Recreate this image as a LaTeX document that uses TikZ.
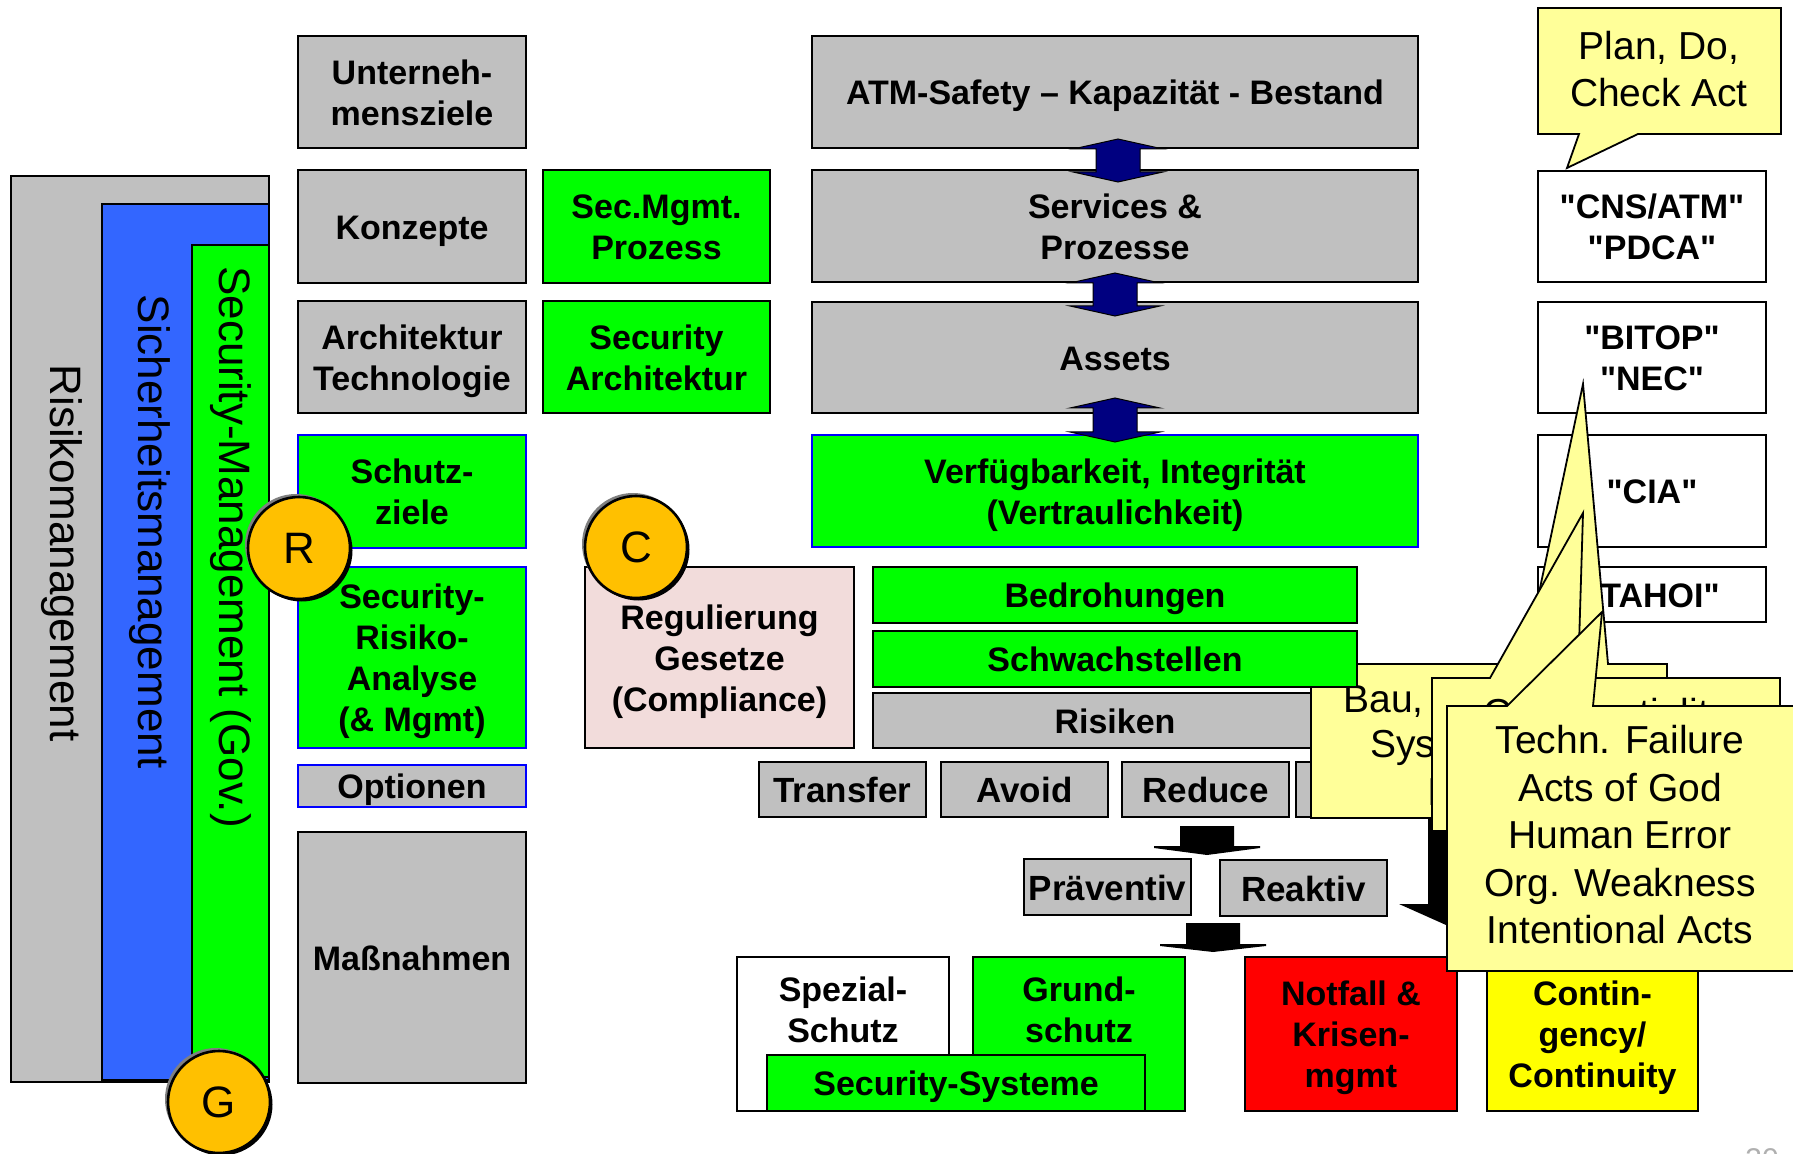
\documentclass[tikz,border=0pt]{standalone}
\usepackage{fontspec}
\setmainfont{Liberation Sans}
\newfontfamily\plainfont{Liberation Sans}
\usetikzlibrary{calc}
\definecolor{gy}{HTML}{C0C0C0}
\definecolor{gn}{HTML}{00FF00}
\definecolor{bl}{HTML}{0000FF}
\definecolor{pb}{HTML}{3366FF}
\definecolor{nv}{HTML}{000080}
\definecolor{pk}{HTML}{F2DCDB}
\definecolor{cy}{HTML}{FFFF99}
\definecolor{og}{HTML}{FFC000}
\definecolor{rd}{HTML}{FF0000}
\definecolor{yl}{HTML}{FFFF00}
\definecolor{pn}{HTML}{B0B0B0}
\newcommand\mystrut{\rule[-0.21em]{0pt}{1.18em}}
\newcommand\bx[7]{\node[#6, minimum width={(#4-#2)*0.5pt}, minimum height={(#5-#3)*0.5pt}] (#1) at ({(#2+#4)/2},{(#3+#5)/2}) {\mystrut#7\mystrut};}
\newcommand\dbl[3]{\draw[narrow] (#1,#2) -- ({#1+45},{#2+10}) -- ({#1+22},{#2+10}) -- ({#1+22},{#3-10}) -- ({#1+45},{#3-10}) -- (#1,#3) -- ({#1-45},{#3-10}) -- ({#1-22},{#3-10}) -- ({#1-22},{#2+10}) -- ({#1-45},{#2+10}) -- cycle;}
\newcommand\bcirc[4]{%
  \fill[gray] ({#2-3},{#3-3}) circle (51);
  \fill[black] ({#2+2.5},{#3+2.5}) circle (51);
  \node[circ] (#1) at (#2,#3) {#4};}
\tikzset{
  bb/.style={draw=black, line width=1.1pt, inner sep=0pt, align=center, font=\bfseries\fontsize{17}{20.5}\selectfont},
  gb/.style={bb, fill=gy},
  nb/.style={bb, fill=gn},
  nbb/.style={bb, fill=gn, draw=bl},
  gbb/.style={bb, fill=gy, draw=bl},
  wb/.style={bb, fill=white, font=\plainfont\bfseries\fontsize{17}{20.5}\selectfont},
  btxt/.style={inner sep=0pt, align=center, font=\bfseries\fontsize{17}{20.5}\selectfont},
  circ/.style={circle, draw=black, line width=1.3pt, fill=og, minimum size=51pt, inner sep=0pt, font=\fontsize{22}{26}\selectfont},
  call/.style={draw=black, line width=0.9pt, fill=cy},
  ctext/.style={align=center, inner sep=0pt, font=\fontsize{19.5}{23.75}\selectfont},
  rot/.style={rotate=-90, anchor=base, inner sep=0pt, font=\fontsize{22}{26}\selectfont},
  narrow/.style={draw=black, line width=0.5pt, fill=nv},
  blarrow/.style={fill=black},
}
\begin{document}
\begin{tikzpicture}[x=0.5pt,y=-0.5pt]
\useasboundingbox (0,0) rectangle (1793,1154);
\fill[white] (0,0) rectangle (1793,1154);
% left panel
\bx{rm}{11}{176}{269}{1082}{bb, fill=gy}{}
\bx{sm}{102}{204}{269}{1080}{bb, fill=pb}{}
\bx{scm}{192}{245}{269}{1077}{bb, fill=gn}{}
\node[rot] (rmt) at (50,553) {Risikomanagement};
\node[rot] (smt) at (138,532) {Sicherheitsmanagement};
\node[rot] (scmt) at (219,547) {Security-Management (Gov.)};
% middle column
\bx{unt}{298}{36}{526}{148}{gb}{Unterneh-\\mensziele}
\bx{konz}{298}{170}{526}{283}{gb}{Konzepte}
\bx{arch}{298}{301}{526}{413}{gb}{Architektur\\Technologie}
\bx{schz}{298}{435}{526}{548}{nbb}{Schutz-\\ziele}
\bx{sra}{298}{567}{526}{748}{nbb}{Security-\\Risiko-\\Analyse\\(\& Mgmt)}
\bx{opt}{298}{765}{526}{807}{gbb}{Optionen}
\bx{mass}{298}{832}{526}{1083}{gb}{Maßnahmen}
% security column
\bx{smp}{543}{170}{770}{283}{nb}{Sec.Mgmt.\\Prozess}
\bx{sarch}{543}{301}{770}{413}{nb}{Security\\Architektur}
\bx{reg}{585}{567}{854}{748}{bb, fill=pk}{Regulierung\\Gesetze\\(Compliance)}
% big column
\bx{atm}{812}{36}{1418}{148}{gb}{ATM-Safety – Kapazität - Bestand}
\bx{serv}{812}{170}{1418}{282}{gb}{Services \&\\Prozesse}
\bx{ass}{812}{302}{1418}{413}{gb}{Assets}
\bx{verf}{812}{435}{1418}{547}{nbb}{Verfügbarkeit, Integrität\\(Vertraulichkeit)}
\dbl{1118}{139}{182}
\dbl{1115}{273}{316}
\dbl{1115}{398}{442}
% risks
\bx{ris}{873}{693}{1357}{748}{gb}{Risiken}
\bx{trans}{759}{762}{926}{817}{gb, font=\bfseries\fontsize{17.5}{21}\selectfont}{Transfer}
\bx{avoid}{941}{762}{1108}{817}{gb, font=\bfseries\fontsize{17.5}{21}\selectfont}{Avoid}
\bx{red}{1122}{762}{1289}{817}{gb, font=\bfseries\fontsize{17.5}{21}\selectfont}{Reduce}
\bx{acc}{1296}{762}{1463}{817}{gb}{}
% right white boxes
\bx{cns}{1538}{171}{1766}{282}{wb}{"CNS/ATM"\\"PDCA"}
\bx{bitop}{1538}{302}{1766}{413}{wb}{"BITOP"\\"NEC"}
\bx{cia}{1538}{435}{1766}{547}{wb}{"CIA"}
\bx{tahoi}{1538}{567}{1766}{622}{wb}{"TAHOI"}
% plan callout
\draw[call] (1538,8) -- (1781,8) -- (1781,134) -- (1638,134) -- (1567,168) -- (1579,134) -- (1538,134) -- cycle;
\node[ctext] (plan) at (1659,69) {Plan, Do,\\Check Act};
% black arrows
\fill[blarrow] (1180,826) -- (1234,826) -- (1234,846) -- (1260,846) -- (1260,848) -- (1207,855) -- (1154,848) -- (1154,846) -- (1180,846) -- cycle;
\bx{prae}{1024}{859}{1191}{915}{gb, font=\bfseries\fontsize{17.5}{21}\selectfont}{Präventiv}
\bx{reak}{1220}{860}{1387}{916}{gb, font=\bfseries\fontsize{17.5}{21}\selectfont}{Reaktiv}
\fill[blarrow] (1186,923) -- (1240,923) -- (1240,944) -- (1266,944) -- (1266,946) -- (1213,952) -- (1160,946) -- (1160,944) -- (1186,944) -- cycle;
\fill[blarrow] (1428,800) -- (1482,800) -- (1482,904) -- (1511,904) -- (1455,929) -- (1399,904) -- (1428,904) -- cycle;
% bottom boxes
\bx{spez}{737}{957}{949}{1111}{wb}{}
\node[btxt] (spezt) at (843,1009) {\mystrut Spezial-\\Schutz\mystrut};
\bx{grund}{973}{957}{1185}{1111}{nb}{}
\node[btxt] (grundt) at (1079,1009) {\mystrut Grund-\\schutz\mystrut};
\bx{secsys}{767}{1055}{1145}{1111}{nb}{Security-Systeme}
\bx{notf}{1245}{957}{1457}{1111}{bb, fill=rd}{Notfall \&\\Krisen-\\mgmt}
\bx{cont}{1487}{957}{1698}{1111}{bb, fill=yl}{Contin-\\gency/\\Continuity}
% callout A
\draw[call] (1311,664) -- (1524,664) -- (1583,384) -- (1608,664) -- (1667,664) -- (1667,818) -- (1311,818) -- cycle;
\node[ctext, anchor=base west] (a1) at (1343,712) {Bau,};
\node[ctext, anchor=base west] (a2) at (1370,757) {Sys};
\node[ctext, anchor=base west] (a3) at (1427,805) {I};
\bx{bedr}{873}{567}{1357}{623}{nb}{Bedrohungen}
\bx{schw}{873}{631}{1357}{687}{nb}{Schwachstellen}
% callout B
\draw[call] (1432,678) -- (1490,678) -- (1583,513) -- (1578,678) -- (1780,678) -- (1780,831) -- (1432,831) -- cycle;
\node[ctext, anchor=base] (b1) at (1606,726) {Confidentiality};
% callout C
\draw[call] (1447,706) -- (1507,706) -- (1602,612) -- (1593,706) -- (1800,706) -- (1800,971) -- (1447,971) -- cycle;
\node[ctext] (c1) at (1620,835) {Techn. Failure\\Acts of God\\Human Error\\Org. Weakness\\Intentional Acts};
% circles
\bcirc{rc}{299}{548}{R}
\bcirc{cc}{636}{547}{C}
\bcirc{gc}{219}{1102}{G}
% page number
\node[anchor=base west, inner sep=0pt, text=pn, font=\fontsize{15}{18}\selectfont] (pnum) at (1745,1169) {30};
\end{tikzpicture}
\end{document}
